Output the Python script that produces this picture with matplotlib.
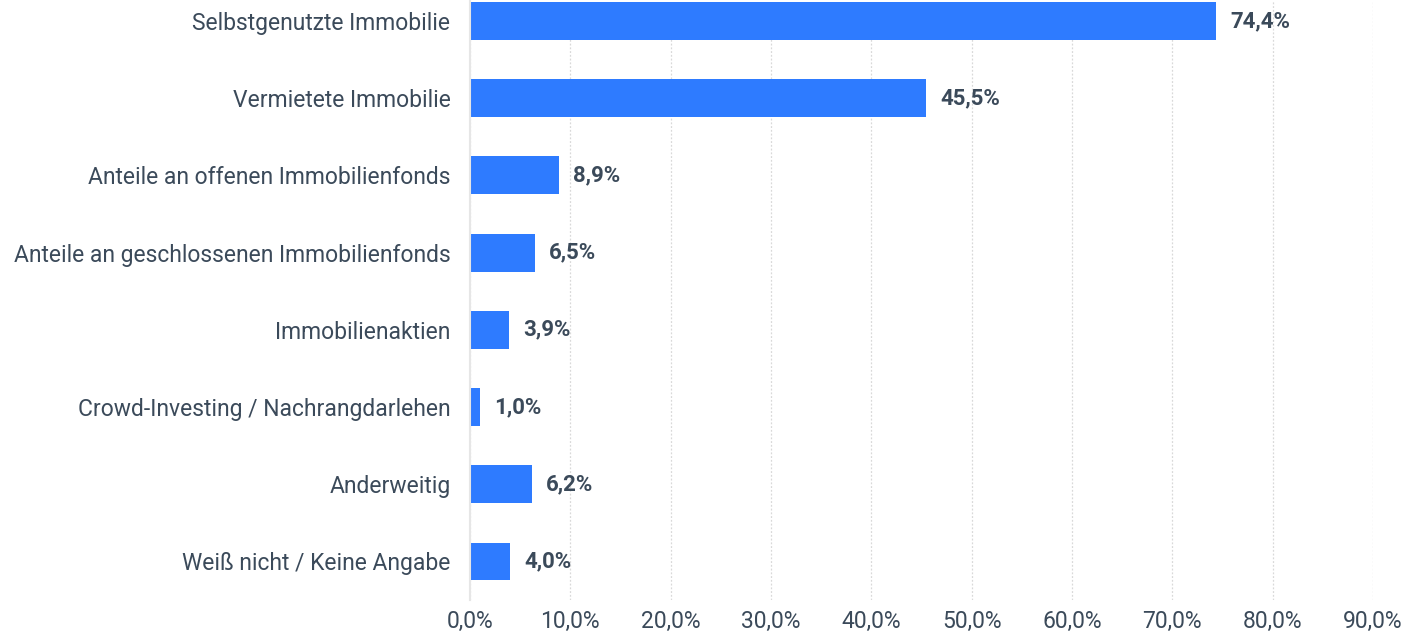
import matplotlib
matplotlib.use("Agg")
import matplotlib.pyplot as plt

plt.rcParams['font.family'] = ['Roboto', 'DejaVu Sans']

categories = [
    "Selbstgenutzte Immobilie",
    "Vermietete Immobilie",
    "Anteile an offenen Immobilienfonds",
    "Anteile an geschlossenen Immobilienfonds",
    "Immobilienaktien",
    "Crowd-Investing / Nachrangdarlehen",
    "Anderweitig",
    "Weiß nicht / Keine Angabe",
]
values = [74.4, 45.5, 8.9, 6.5, 3.9, 1.0, 6.2, 4.0]
xticks = [0, 10, 20, 30, 40, 50, 60, 70, 80, 90]

text_color = "#3b4a5a"
bar_color = "#2e7bff"

fig = plt.figure(figsize=(14.07, 6.34), dpi=100)
ax = fig.add_axes([0.334, 0.0536, 0.6418, 0.9464])

pos = list(range(len(categories)))
ax.barh(pos, values, height=0.49, color=bar_color, zorder=3)

for p, v in zip(pos, values):
    ax.annotate(f"{v:.1f}%".replace(".", ","), xy=(v, p), xytext=(10, 0),
                textcoords="offset points", va="center", ha="left",
                fontsize=16, fontweight="bold", color=text_color)

ax.set_xlim(0, 90)
ax.set_ylim(7.5, -0.272)
ax.set_xticks(xticks)
ax.set_xticklabels([f"{t:.1f}%".replace(".", ",") for t in xticks])
ax.set_yticks(pos)
ax.set_yticklabels(categories)
ax.tick_params(axis="both", length=0, labelsize=16.5, labelcolor=text_color)
ax.tick_params(axis="y", pad=14)
ax.tick_params(axis="x", pad=7)

ax.grid(axis="x", linestyle=(0, (1.5, 1.5)), color="#d9d9d9", linewidth=0.9, zorder=0)
for s in ["top", "right", "bottom"]:
    ax.spines[s].set_visible(False)
ax.spines["left"].set_color("#e6e6e6")
ax.spines["left"].set_linewidth(1.5)
ax.spines["left"].set_zorder(4)

fig.savefig("out.png", dpi=100)
